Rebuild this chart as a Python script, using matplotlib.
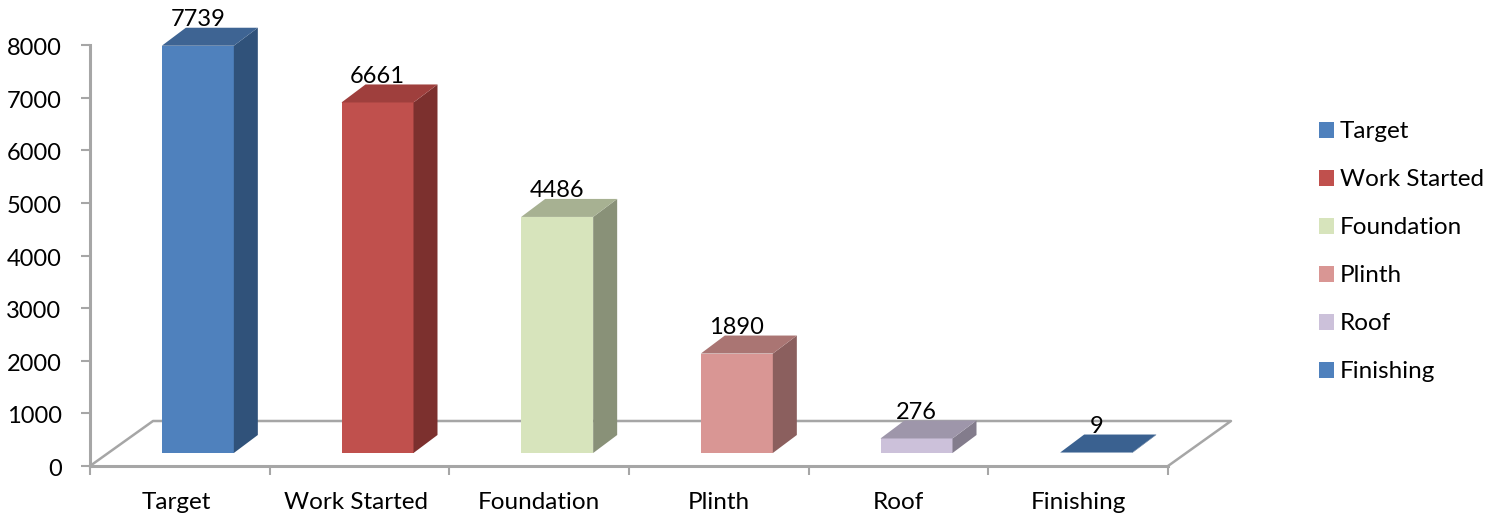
import matplotlib
matplotlib.use("Agg")
import matplotlib.pyplot as plt
from matplotlib.patches import Polygon, Patch
from matplotlib.ticker import FixedLocator, NullFormatter
from matplotlib.transforms import ScaledTranslation

categories = ["Target", "Work Started", "Foundation", "Plinth", "Roof", "Finishing"]
values = [7739, 6661, 4486, 1890, 276, 9]
y_ticks = [0, 1000, 2000, 3000, 4000, 5000, 6000, 7000, 8000]
front_colors = ["#4f81bd", "#c0504d", "#d7e4bc", "#d99694", "#ccc1da", "#4f81bd"]
top_colors = ["#3e6493", "#9f3f3d", "#a7b192", "#aa7573", "#9e96aa", "#3a6190"]
side_colors = ["#30527a", "#7c302e", "#899178", "#8b5f5e", "#837c8c", "#30527a"]

GRAY = "#a6a6a6"
FONT = "Lato"
FS = 17.5
FS_NUM = 17

W, H = 1502, 515
fig = plt.figure(figsize=(W / 100, H / 100), dpi=100)
L, R, T, B = 90, 1168, 45, 466
ax = fig.add_axes([L / W, 1 - B / H, (R - L) / W, (B - T) / H])
ax.set_xlim(-0.5, 5.5)
ax.set_ylim(0, 8000)
ax.patch.set_alpha(0)

px_x = 6 / (R - L)
px_y = 8000 / (B - T)
bar_w = 72 * px_x
shift = 18 * px_x
lift = 13 * px_y
dx, dy = 24 * px_x, 18 * px_y
floor_dx, floor_dy = 63 * px_x, 45 * px_y

# floor
ax.plot([-0.5, -0.5 + floor_dx, 5.5 + floor_dx, 5.5],
        [0, floor_dy, floor_dy, 0], color=GRAY, lw=1.8, zorder=1, clip_on=False)

for i, (v, fc, tc, sc) in enumerate(zip(values, front_colors, top_colors, side_colors)):
    x0 = i + shift - bar_w / 2
    x1 = x0 + bar_w
    y0 = lift
    y1 = lift + v
    ax.bar(i + shift, v, width=bar_w, bottom=lift, color=fc, zorder=3, linewidth=0)
    ax.add_patch(Polygon([(x1, y0), (x1 + dx, y0 + dy), (x1 + dx, y1 + dy), (x1, y1)],
                         closed=True, fc=sc, ec="none", zorder=3, clip_on=False))
    ax.add_patch(Polygon([(x0, y1), (x1, y1), (x1 + dx, y1 + dy), (x0 + dx, y1 + dy)],
                         closed=True, fc=tc, ec="none", zorder=3, clip_on=False))
    ax.annotate(str(v), (i + shift, y1), xytext=(0, 19), textcoords="offset points",
                ha="center", va="center", fontsize=FS_NUM, family=FONT, color="black",
                zorder=5, annotation_clip=False)

for s in ("top", "right"):
    ax.spines[s].set_visible(False)
for s in ("left", "bottom"):
    ax.spines[s].set_color(GRAY)
    ax.spines[s].set_linewidth(2.2)

ax.set_yticks(y_ticks)
ax.set_yticklabels([str(t) for t in y_ticks], fontsize=FS_NUM, family=FONT)
ax.tick_params(axis="y", length=6.5, width=1.5, color=GRAY, pad=14)
ax.set_xticks(range(len(categories)))
ax.set_xticklabels(categories, fontsize=FS, family=FONT)
ax.tick_params(axis="x", which="major", length=0, pad=18.5)
ax.xaxis.set_minor_locator(FixedLocator([i - 0.5 for i in range(len(categories) + 1)]))
ax.xaxis.set_minor_formatter(NullFormatter())
ax.tick_params(axis="x", which="minor", length=6.5, width=1.5, color=GRAY)

# nudge the two leftmost category labels by a few pixels
xnudge = ScaledTranslation(-4 / 100, 0, fig.dpi_scale_trans)
for lab in ax.get_xticklabels()[:2]:
    lab.set_transform(lab.get_transform() + xnudge)
ynudge = ScaledTranslation(0, -1.5 / 100, fig.dpi_scale_trans)
for lab in ax.get_yticklabels():
    lab.set_transform(lab.get_transform() + ynudge)

handles = [Patch(fc=c, ec="none", label=n) for c, n in zip(front_colors, categories)]
fs_px = FS * 100 / 72
leg = fig.legend(handles=handles, loc="upper left",
                 bbox_to_anchor=(1318.5 / W, 1 - 121.5 / H), frameon=False,
                 prop={"family": FONT, "size": FS}, borderpad=0, borderaxespad=0,
                 handlelength=15 / fs_px, handleheight=15 / fs_px,
                 handletextpad=6 / fs_px, labelspacing=0.0)
leg._legend_handle_box.get_children()[0].sep = 19.4

fig.savefig("out.png", dpi=100)
